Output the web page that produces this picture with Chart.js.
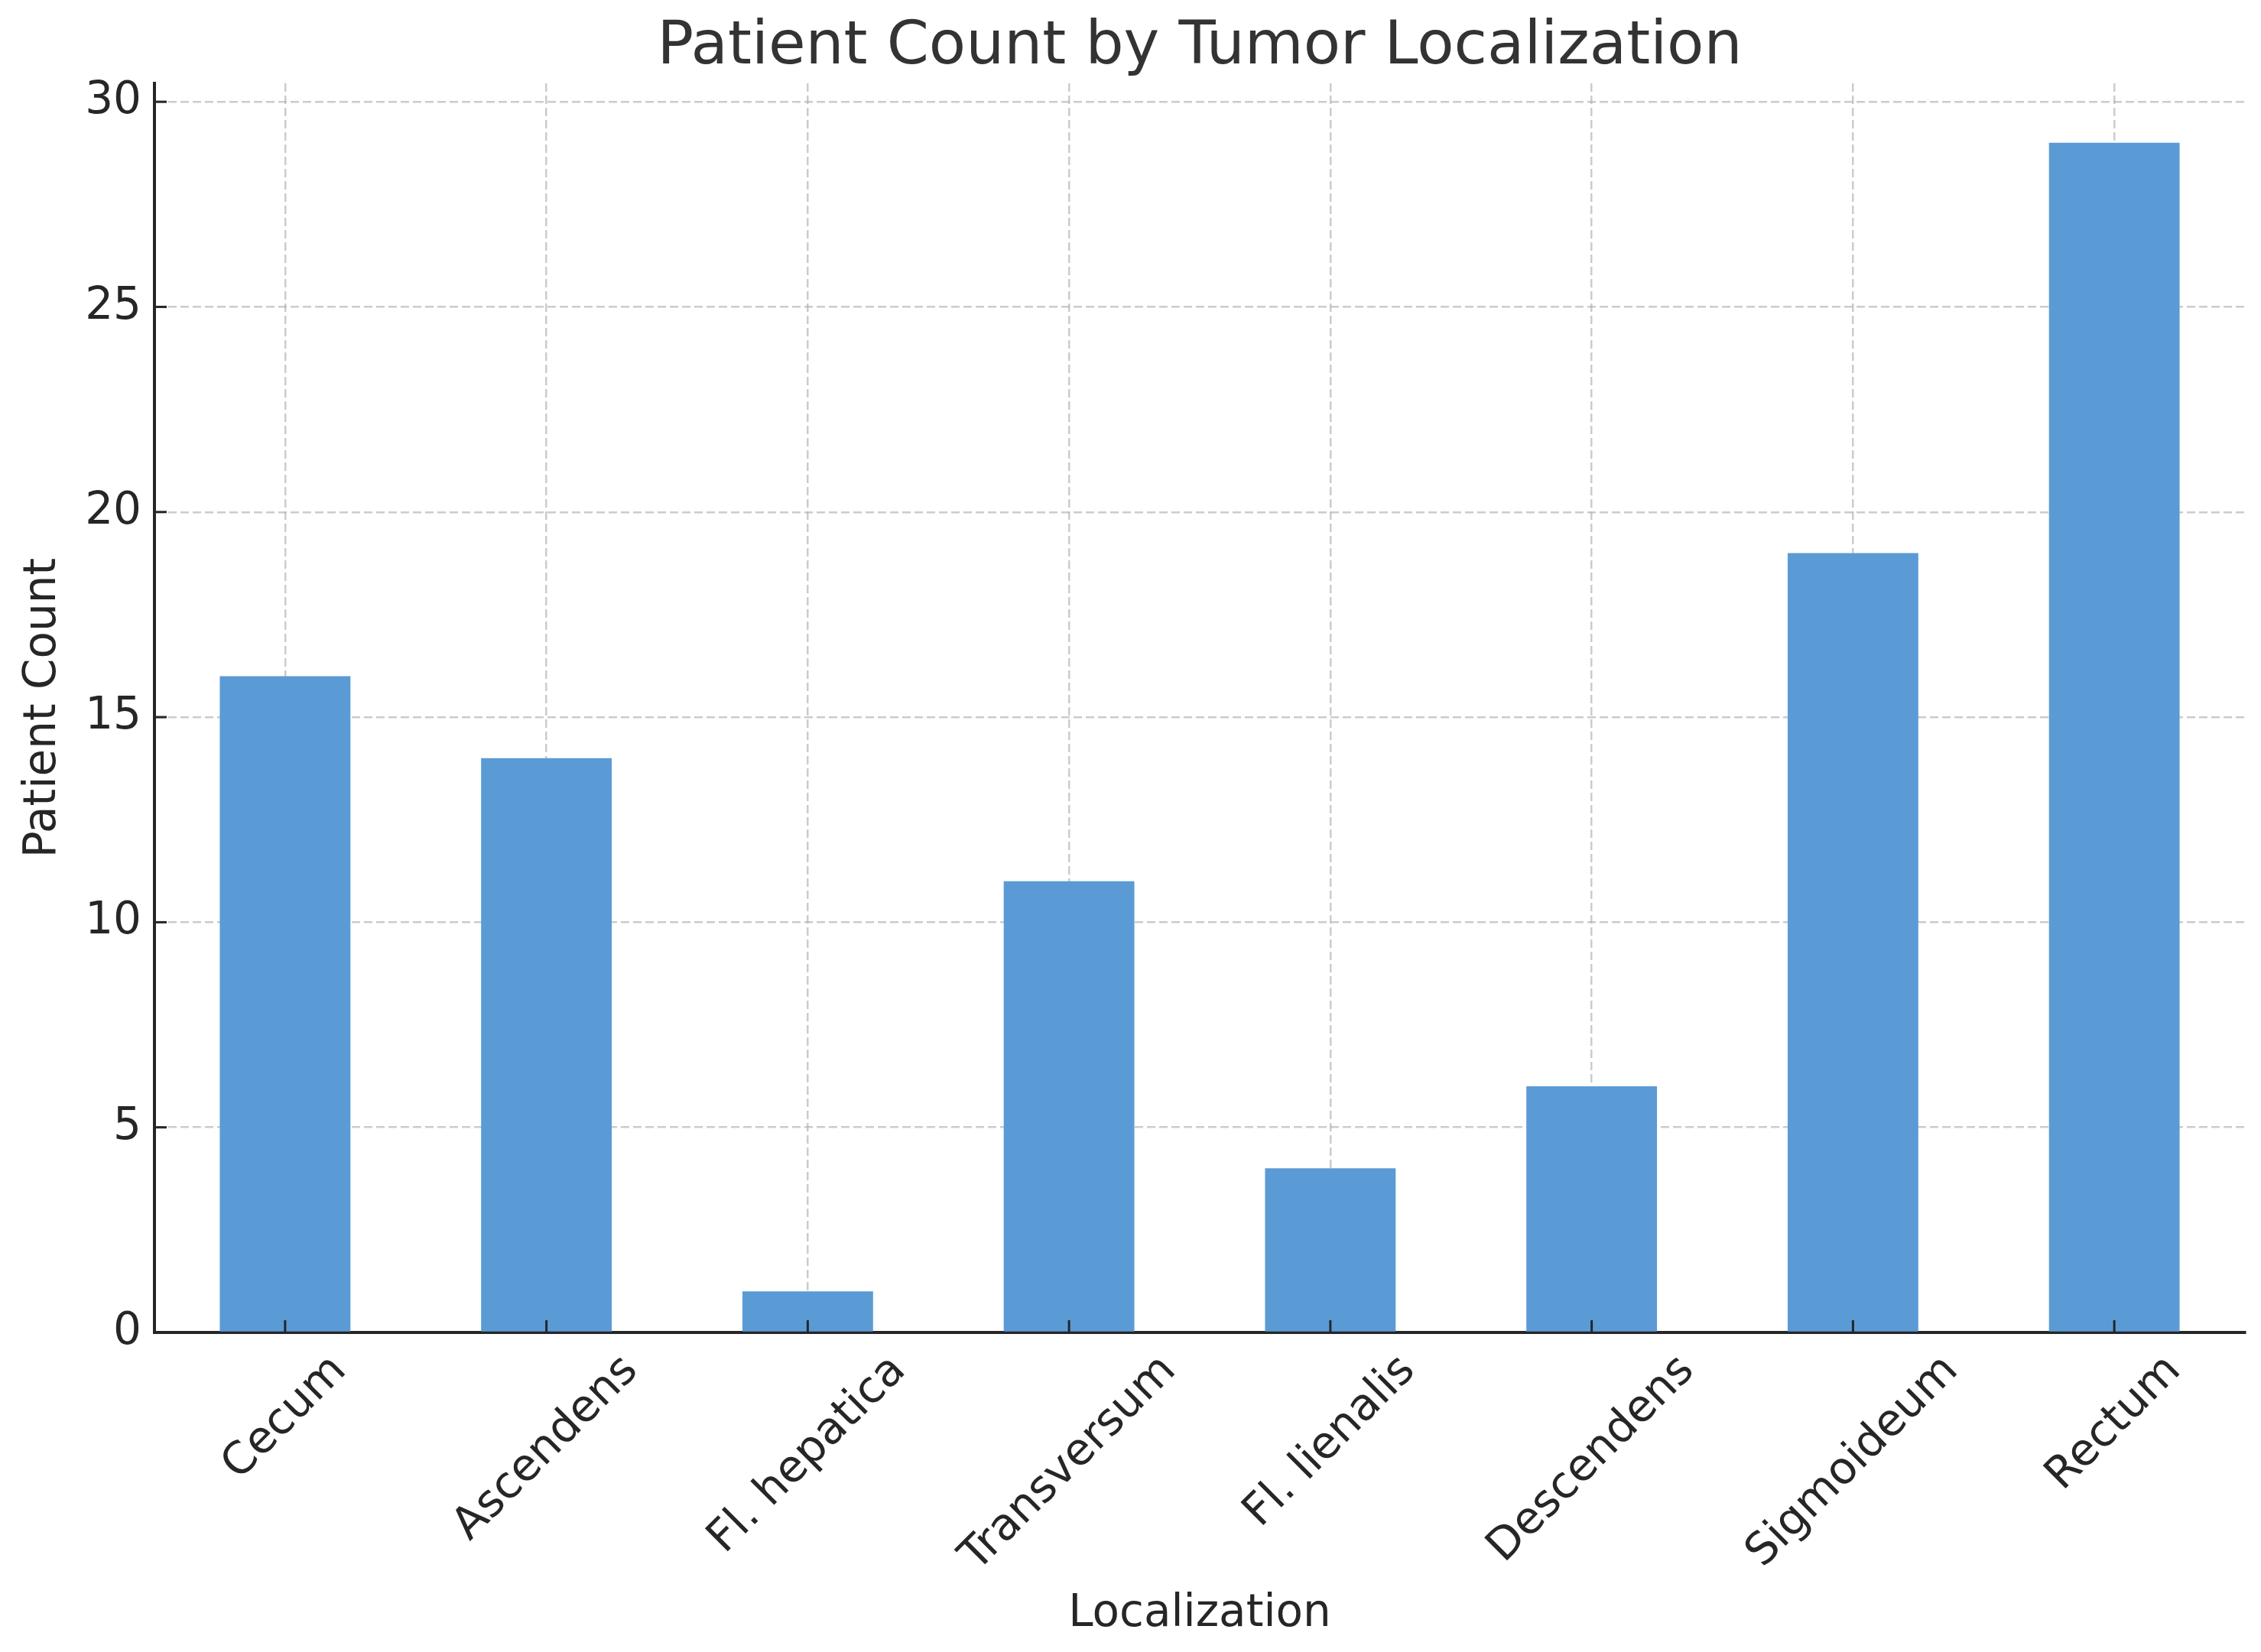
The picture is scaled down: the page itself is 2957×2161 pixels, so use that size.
<!DOCTYPE html>
<html>
<head>
<meta charset="utf-8">
<script src="https://cdn.jsdelivr.net/npm/chart.js@4.4.1/dist/chart.umd.min.js"></script>
<style>
  html, body { margin: 0; padding: 0; background: #fff; }
  #wrap { width: 2957px; height: 2161px; }
</style>
</head>
<body>
<div id="wrap"><canvas id="barChart" width="2957" height="2161"></canvas></div>
<script>
"use strict";

var localizations = ["Cecum", "Ascendens", "Fl. hepatica", "Transversum", "Fl. lienalis", "Descendens", "Sigmoideum", "Rectum"];
var patientCounts = [16, 14, 1, 11, 4, 6, 19, 29];
var yMax = 30.45;
var yStep = 5;

var ink = "#262626";
var barColor = "#5b9bd5";
var gridColor = "rgba(176,176,176,0.65)";
var fontSize = 58;

Chart.defaults.font.family = "'DejaVu Sans', sans-serif";
Chart.defaults.color = ink;

// matplotlib style: rotated labels centred under the tick, ticks pointing inward
var axisExtras = {
    id: "axisExtras",
    afterDraw: function (chart) {
        var ctx = chart.ctx;
        var xs = chart.scales.x;
        var ys = chart.scales.y;
        var area = chart.chartArea;
        ctx.save();
        ctx.strokeStyle = ink;
        ctx.lineWidth = 3;
        xs.ticks.forEach(function (t, i) {
            var px = xs.getPixelForTick(i);
            ctx.beginPath();
            ctx.moveTo(px, area.bottom);
            ctx.lineTo(px, area.bottom - 16);
            ctx.stroke();
        });
        ys.ticks.forEach(function (t) {
            var py = ys.getPixelForValue(t.value);
            ctx.beginPath();
            ctx.moveTo(area.left, py);
            ctx.lineTo(area.left + 16, py);
            ctx.stroke();
        });

        ctx.font = fontSize + "px 'DejaVu Sans'";
        ctx.fillStyle = ink;
        ctx.textAlign = "center";
        ctx.textBaseline = "middle";
        localizations.forEach(function (lab, i) {
            var w = ctx.measureText(lab).width;
            var h = fontSize * 1.17;
            var half = (w + h) * Math.SQRT1_2 / 2;
            var cx = xs.getPixelForTick(i);
            var cy = area.bottom + 17 + half;
            ctx.save();
            ctx.translate(cx, cy);
            ctx.rotate(-Math.PI / 4);
            ctx.fillText(lab, 0, 0);
            ctx.restore();
        });
        ctx.restore();
    }
};

var ctx = document.getElementById("barChart");
var myChart = new Chart(ctx, {
    type: "bar",
    data: {
        labels: localizations,
        datasets: [{
            data: patientCounts,
            backgroundColor: barColor,
            borderWidth: 0,
            barPercentage: 0.5,
            categoryPercentage: 1.0
        }]
    },
    options: {
        responsive: false,
        animation: false,
        devicePixelRatio: 1,
        layout: { padding: { left: 0, right: 21, top: 0, bottom: 0 } },
        plugins: {
            legend: { display: false },
            tooltip: { enabled: false },
            title: {
                display: true,
                fullSize: false,
                text: "Patient Count by Tumor Localization",
                color: "#333333",
                font: { size: 79, weight: "normal", lineHeight: 1.1 },
                padding: { top: 19.5, bottom: 2.6 }
            }
        },
        scales: {
            x: {
                z: 1,
                offset: true,
                grid: {
                    offset: false,
                    color: gridColor,
                    lineWidth: 2.5,
                    drawTicks: false
                },
                border: { color: ink, width: 4, dash: [11, 5] },
                ticks: { display: false },
                title: {
                    display: true,
                    text: "Localization",
                    color: ink,
                    font: { size: fontSize, weight: "normal" },
                    padding: { top: 0, bottom: 14 }
                },
                afterFit: function (scale) { scale.height = 418; }
            },
            y: {
                z: 1,
                min: 0,
                max: yMax,
                grid: {
                    color: gridColor,
                    lineWidth: 2.5,
                    drawTicks: false
                },
                border: { color: ink, width: 4, dash: [11, 5] },
                ticks: {
                    stepSize: yStep,
                    includeBounds: false,
                    padding: 17,
                    color: ink,
                    font: { size: fontSize }
                },
                title: {
                    display: true,
                    text: "Patient Count",
                    color: ink,
                    font: { size: fontSize, weight: "normal" },
                    padding: { top: 22, bottom: 0 }
                },
                afterFit: function (scale) { scale.width = 202; }
            }
        }
    },
    plugins: [axisExtras]
});
</script>
</body>
</html>
